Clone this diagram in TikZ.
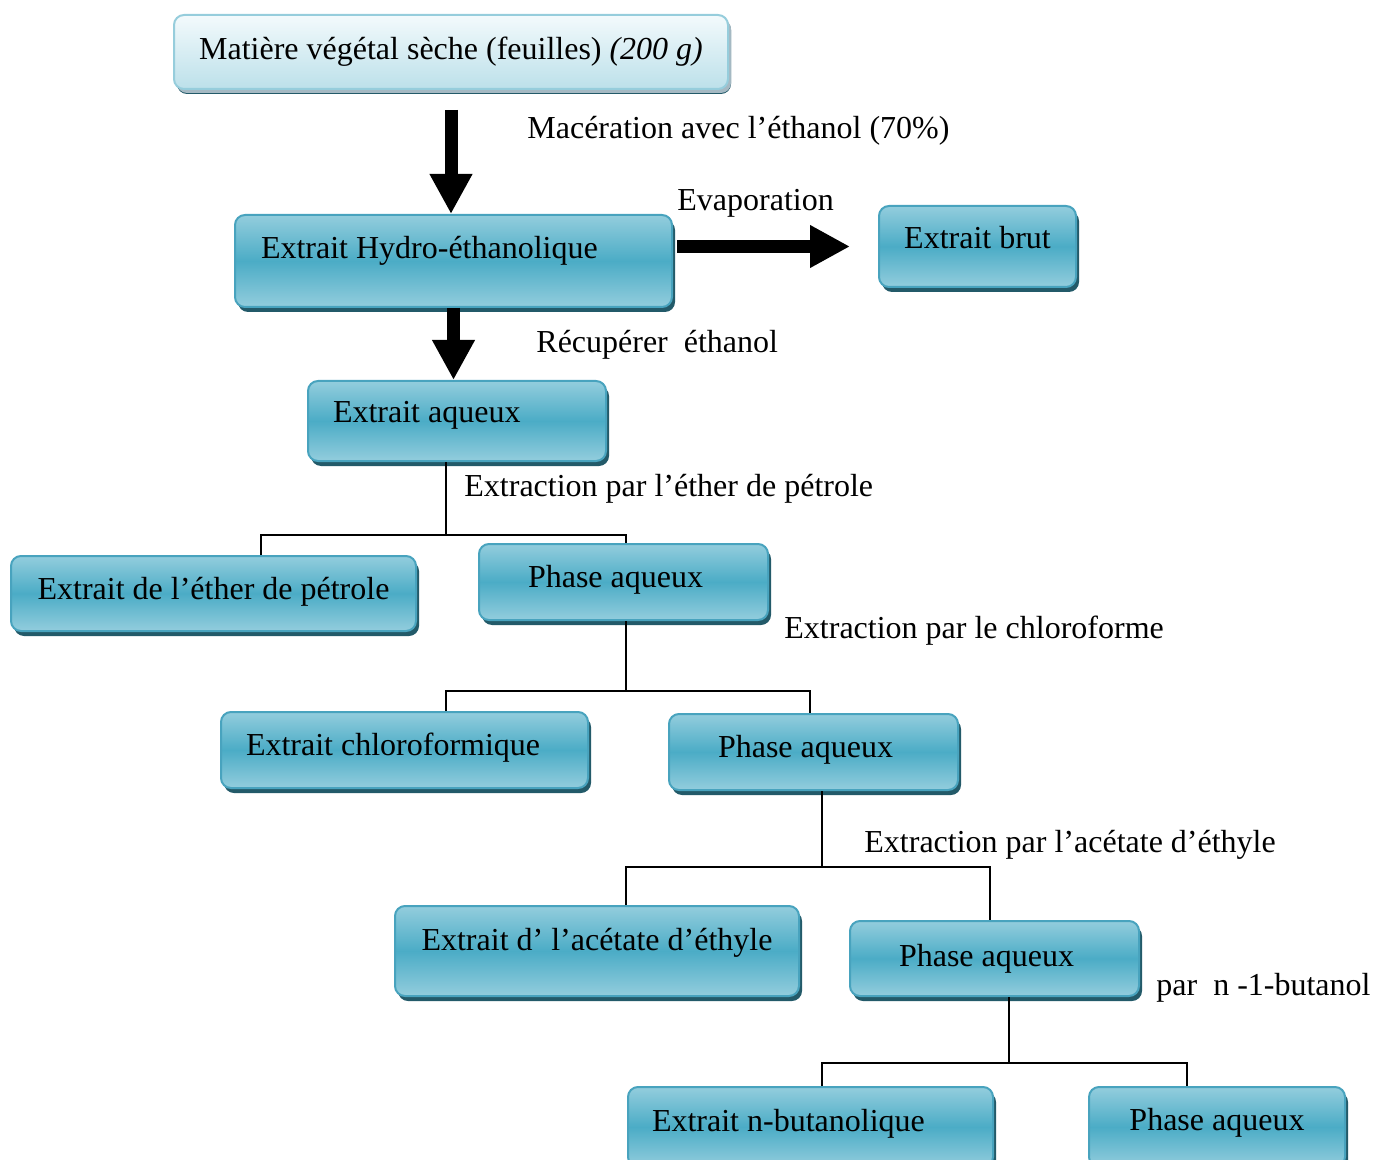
\documentclass[tikz,border=0pt]{standalone}
\usepackage{fontspec}
\setmainfont{Liberation Serif}
\usetikzlibrary{arrows.meta,shadows}
\definecolor{boxlight}{RGB}{147,205,221}
\definecolor{boxmid}{RGB}{75,172,198}
\definecolor{boxedge}{RGB}{72,163,190}
\definecolor{boxshade}{RGB}{35,90,105}
\definecolor{toplight}{RGB}{243,250,252}
\definecolor{topdark}{RGB}{188,224,234}
\definecolor{topedge}{RGB}{150,205,220}
\definecolor{topshade}{RGB}{165,185,195}
\tikzstyle{box}=[draw=boxedge, line width=1pt, rounded corners=5pt, anchor=north west,
    align=flush left, top color=boxlight, bottom color=boxlight, middle color=boxmid,
    drop shadow={fill=boxshade, opacity=1, shadow xshift=1.5pt, shadow yshift=-2.5pt}]
\tikzstyle{topbox}=[box, draw=topedge, top color=toplight, bottom color=topdark,
    drop shadow={fill=topshade, opacity=1, shadow xshift=1.5pt, shadow yshift=-2pt}]
\tikzstyle{bigarrow}=[line width=6.5pt, -{Triangle[length=20pt,width=20pt]}]
\tikzstyle{link}=[line width=1pt]
\tikzstyle{note}=[anchor=west, inner sep=0pt]
\newcommand{\boxnode}{\node[box]}

\begin{document}
\begin{tikzpicture}[x=0.5pt, y=-0.5pt, font=\fontsize{16}{19}\selectfont]
\useasboundingbox (0,0) rectangle (1375,1160);
% boxes
\node[topbox, minimum width=277pt, minimum height=37pt] (mat) at (173,14)
    {Matière végétal sèche (feuilles) \textit{(200 g)}};
\boxnode[minimum width=218.5pt, minimum height=46pt, text width=192.5pt, text depth=13.5pt] (hyd) at (234,214) {Extrait Hydro-éthanolique};
\boxnode[minimum width=98.5pt, minimum height=40.5pt, text depth=9pt] (brut) at (878,205) {Extrait brut};
\boxnode[minimum width=149pt, minimum height=40pt, text width=124pt, text depth=9.5pt] (aq) at (307,380) {Extrait aqueux};
\boxnode[minimum width=202.5pt, minimum height=37.5pt, text depth=5.5pt] (eth) at (10,555) {Extrait de l’éther de pétrole};
\boxnode[minimum width=144.5pt, minimum height=38pt, text width=95.5pt, text depth=5.5pt] (ph1) at (478,543) {Phase aqueux};
\boxnode[minimum width=183.5pt, minimum height=38pt, text width=158.5pt, text depth=5.5pt] (chl) at (220,711) {Extrait chloroformique};
\boxnode[minimum width=144.5pt, minimum height=38pt, text width=95.5pt, text depth=5.5pt] (ph2) at (668,713) {Phase aqueux};
\boxnode[minimum width=202pt, minimum height=45pt, text depth=11.5pt] (acet) at (394,905) {Extrait d’ l’acétate d’éthyle};
\boxnode[minimum width=144.5pt, minimum height=37.5pt, text width=95.5pt] (ph3) at (849,920) {Phase aqueux};
\boxnode[minimum width=182.5pt, minimum height=40pt, text width=158.5pt, text depth=6.5pt] (nbut) at (627,1086) {Extrait n-butanolique};
\boxnode[minimum width=128pt, minimum height=40pt, text depth=7.5pt] (ph4) at (1088,1086) {Phase aqueux};

% arrows
\draw[bigarrow, shorten <=10pt] (mat.south) -- (mat.south |- hyd.north);
\draw[bigarrow, shorten <=2pt, shorten >=14pt] (hyd.east |- brut.west) -- (brut.west);
\draw[bigarrow] (hyd.south) -- (hyd.south |- aq.north);

% extraction trees
\coordinate (j1) at (446,535);
\coordinate (j1l) at (261,535);
\coordinate (j1r) at (626,535);
\draw[link] (aq.south -| j1) -- (j1);
\draw[link] (eth.north -| j1l) -- (j1l) -- (j1r) -- (ph1.north -| j1r);

\coordinate (j2) at (626,691);
\coordinate (j2l) at (446,691);
\coordinate (j2r) at (810,691);
\draw[link] (ph1.south -| j2) -- (j2);
\draw[link] (chl.north -| j2l) -- (j2l) -- (j2r) -- (ph2.north -| j2r);

\coordinate (j3) at (822,867);
\coordinate (j3l) at (626,867);
\coordinate (j3r) at (990,867);
\draw[link] (ph2.south -| j3) -- (j3);
\draw[link] (acet.north -| j3l) -- (j3l) -- (j3r) -- (ph3.north -| j3r);

\coordinate (j4) at (1009,1063);
\coordinate (j4l) at (822,1063);
\coordinate (j4r) at (1187,1063);
\draw[link] (ph3.south -| j4) -- (j4);
\draw[link] (nbut.north -| j4l) -- (j4l) -- (j4r) -- (ph4.north -| j4r);

% labels
\node[note] (mac) at (527,131) {Macération avec l’éthanol (70\%)};
\node[note] (evap) at (677,203) {Evaporation};
\node[note] (recup) at (536,345) {Récupérer\ \ éthanol};
\node[note] (ext1) at (464,489) {Extraction par l’éther de pétrole};
\node[note] (ext2) at (784,631) {Extraction par le chloroforme};
\node[note] (ext3) at (864,845) {Extraction par l’acétate d’éthyle};
\node[note] (ext4) at (1156,988) {par\ \ n -1-butanol};
\end{tikzpicture}
\end{document}
